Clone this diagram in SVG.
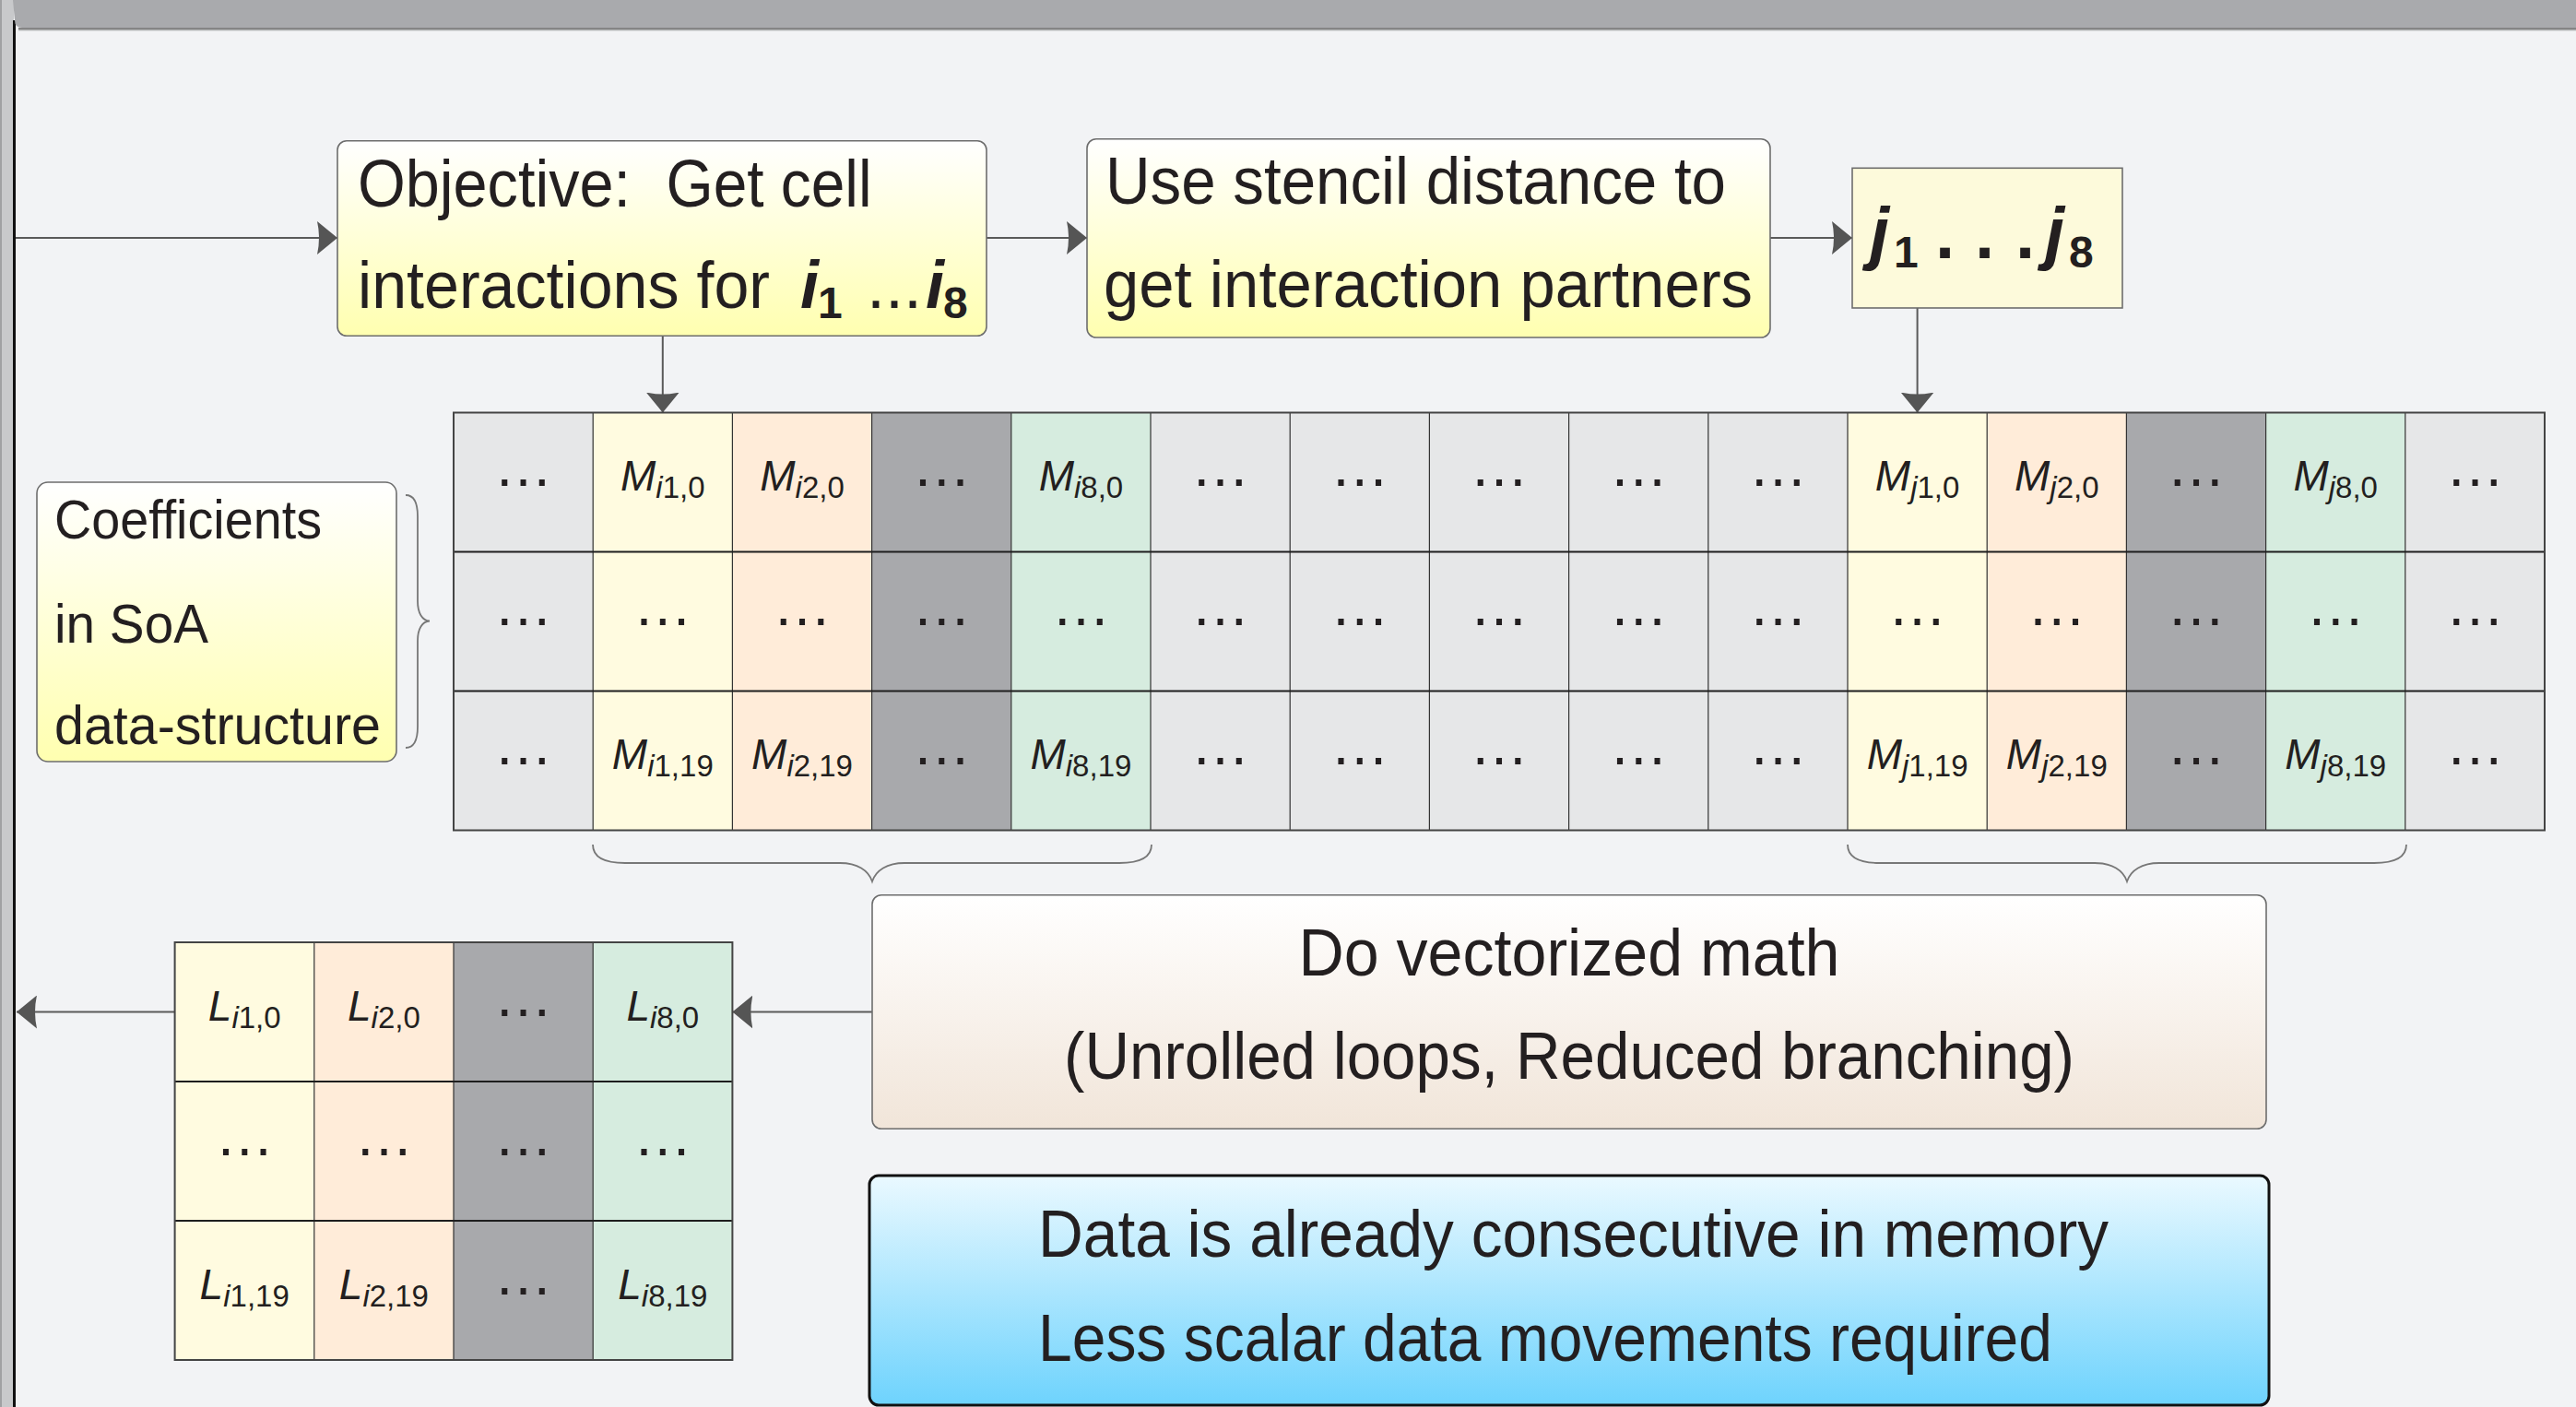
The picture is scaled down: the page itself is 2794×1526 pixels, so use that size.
<svg xmlns="http://www.w3.org/2000/svg" width="2794" height="1526" viewBox="0 0 2794 1526">
<style>
.t{font-family:"Liberation Sans",Arial,sans-serif;fill:#231f20}
.big{font-size:72px}
.mid{font-size:60px}
.cell{font-size:46px}
.sub{font-size:33px}
.it{font-style:italic}
.mb{font-style:italic;font-weight:bold}
.bd{font-weight:bold}
.dots{font-size:64px}
.box{stroke:#6d6d6d;stroke-width:1.6}
.conn{stroke:#5a5a5a;stroke-width:2;fill:none}
.brace{stroke:#777;stroke-width:1.8;fill:none}
.vl{stroke:#333;stroke-width:1.2}
.hl{stroke:#1e1e1e;stroke-width:2}
.lg{fill:#e6e7e8}.cy{fill:#fffbe0}.cp{fill:#ffecd9}.cd{fill:#a8a9ac}.cg{fill:#d6ecdf}
</style>
<defs>
<linearGradient id="gY" x1="0" y1="0" x2="0" y2="1"><stop offset="0" stop-color="#ffffff"/><stop offset="1" stop-color="#ffffb0"/></linearGradient>
<linearGradient id="gB" x1="0" y1="0" x2="0" y2="1"><stop offset="0" stop-color="#ffffff"/><stop offset="1" stop-color="#f1e5d9"/></linearGradient>
<linearGradient id="gC" x1="0" y1="0" x2="0" y2="1"><stop offset="0" stop-color="#eaf9ff"/><stop offset="1" stop-color="#6ed3fd"/></linearGradient>
<marker id="ah" viewBox="0 0 22 36" refX="22" refY="18" markerWidth="22" markerHeight="36" markerUnits="userSpaceOnUse" orient="auto">
<path d="M0,0 L22,18 L0,36 Q4,18 0,0 Z" fill="#555"/>
</marker>
</defs>
<rect x="0" y="0" width="2794" height="1526" fill="#f2f3f5"/>
<g id="frame">
<rect x="0" y="0" width="15" height="1526" fill="#c8c9cb"/>
<rect x="0" y="0" width="2" height="1526" fill="#a0a1a3"/>
<rect x="14" y="22" width="3" height="1504" fill="#111"/>
<path d="M14,0 H2794 V30 H24 Q16,30 16,22 Z" fill="#a9aaad"/>
<rect x="20" y="30" width="2774" height="2.7" fill="#858585"/>
<rect x="20" y="32.7" width="2774" height="1" fill="#d2d3d5"/>
</g>
<g id="connectors">
<path class="conn" d="M17,258 H366" marker-end="url(#ah)"/>
<path class="conn" d="M1070,258 H1179" marker-end="url(#ah)"/>
<path class="conn" d="M1920,258 H2009" marker-end="url(#ah)"/>
<path class="conn" d="M718.8,364 V447.5" marker-end="url(#ah)"/>
<path class="conn" d="M2079.6,334 V447.5" marker-end="url(#ah)"/>
<path class="conn" d="M946,1097.5 H794.4" marker-end="url(#ah)"/>
<path class="conn" d="M189.6,1097.5 H18" marker-end="url(#ah)"/>
</g>
<g id="objective">
<rect class="box" x="366" y="152.7" width="704" height="211.6" rx="10" fill="url(#gY)"/>
<text class="t big" x="388" y="224" textLength="296" lengthAdjust="spacingAndGlyphs">Objective:</text>
<text class="t big" x="722.5" y="224" textLength="223" lengthAdjust="spacingAndGlyphs">Get cell</text>
<text class="t big" x="388" y="334" textLength="447" lengthAdjust="spacingAndGlyphs">interactions for</text>
<text class="t big"><tspan class="mb" x="868" y="334" font-size="72">i</tspan><tspan class="bd" x="887" y="345" font-size="48">1</tspan><tspan x="940" y="334">...</tspan><tspan class="mb" x="1004" y="334" font-size="72">i</tspan><tspan class="bd" x="1023" y="345" font-size="48">8</tspan></text>
</g>
<g id="stencil">
<rect class="box" x="1179" y="150.7" width="741" height="215.3" rx="10" fill="url(#gY)"/>
<text class="t big" x="1199" y="221" textLength="673" lengthAdjust="spacingAndGlyphs">Use stencil distance to</text>
<text class="t big" x="1197" y="333" textLength="704" lengthAdjust="spacingAndGlyphs">get interaction partners</text>
</g>
<g id="partners">
<rect class="box" x="2009" y="182.3" width="293" height="151.7" fill="#fdfadb"/>
<text class="t" font-size="76"><tspan class="mb" x="2028" y="278">j</tspan><tspan class="bd" x="2054" y="290" font-size="48">1</tspan><tspan class="bd" x="2099" y="280">.</tspan><tspan class="bd" x="2142" y="280">.</tspan><tspan class="bd" x="2186" y="280">.</tspan><tspan class="mb" x="2218" y="278">j</tspan><tspan class="bd" x="2244" y="290" font-size="48">8</tspan></text>
</g>
<g id="coefficients">
<rect class="box" x="40" y="523" width="390" height="303" rx="12" fill="url(#gY)"/>
<text class="t mid" x="59" y="584" textLength="290" lengthAdjust="spacingAndGlyphs">Coefficients</text>
<text class="t mid" x="59" y="697" textLength="167" lengthAdjust="spacingAndGlyphs">in SoA</text>
<text class="t mid" x="59" y="807" textLength="354" lengthAdjust="spacingAndGlyphs">data-structure</text>
<path class="brace" d="M440,537 C449,537 453,545 453,560 L453,652 C453,665 458,673 466,673.5 C458,674 453,682 453,695 L453,788 C453,803 449,811 440,811"/>
</g>
<g id="matrix">
<rect class="lg" x="492" y="447.5" width="2268" height="453"/>
<rect class="cy" x="643.2" y="447.5" width="151.2" height="453"/>
<rect class="cp" x="794.4" y="447.5" width="151.2" height="453"/>
<rect class="cd" x="945.6" y="447.5" width="151.2" height="453"/>
<rect class="cg" x="1096.8" y="447.5" width="151.2" height="453"/>
<rect class="cy" x="2004" y="447.5" width="151.2" height="453"/>
<rect class="cp" x="2155.2" y="447.5" width="151.2" height="453"/>
<rect class="cd" x="2306.4" y="447.5" width="151.2" height="453"/>
<rect class="cg" x="2457.6" y="447.5" width="151.2" height="453"/>
<path class="vl" d="M643.2,447.5V900.5M794.4,447.5V900.5M945.6,447.5V900.5M1096.8,447.5V900.5M1248,447.5V900.5M1399.2,447.5V900.5M1550.4,447.5V900.5M1701.6,447.5V900.5M1852.8,447.5V900.5M2004,447.5V900.5M2155.2,447.5V900.5M2306.4,447.5V900.5M2457.6,447.5V900.5M2608.8,447.5V900.5"/>
<path class="hl" d="M492,598.5H2760M492,749.5H2760"/>
<rect x="492" y="447.5" width="2268" height="453" fill="none" stroke="#444" stroke-width="2"/>
<g class="t dots" text-anchor="middle">
<text x="567.6" y="527">…</text><text x="1021.2" y="527">…</text><text x="1323.6" y="527">…</text><text x="1474.8" y="527">…</text><text x="1626" y="527">…</text><text x="1777.2" y="527">…</text><text x="1928.4" y="527">…</text><text x="2382" y="527">…</text><text x="2684.4" y="527">…</text>
<text x="567.6" y="678">…</text><text x="718.8" y="678">…</text><text x="870" y="678">…</text><text x="1021.2" y="678">…</text><text x="1172.4" y="678">…</text><text x="1323.6" y="678">…</text><text x="1474.8" y="678">…</text><text x="1626" y="678">…</text><text x="1777.2" y="678">…</text><text x="1928.4" y="678">…</text><text x="2079.6" y="678">…</text><text x="2230.8" y="678">…</text><text x="2382" y="678">…</text><text x="2533.2" y="678">…</text><text x="2684.4" y="678">…</text>
<text x="567.6" y="829">…</text><text x="1021.2" y="829">…</text><text x="1323.6" y="829">…</text><text x="1474.8" y="829">…</text><text x="1626" y="829">…</text><text x="1777.2" y="829">…</text><text x="1928.4" y="829">…</text><text x="2382" y="829">…</text><text x="2684.4" y="829">…</text>
</g>
<g class="t cell" text-anchor="middle">
<text x="718.8" y="531.5"><tspan class="it">M</tspan><tspan class="sub" dy="8"><tspan class="it">i</tspan>1,0</tspan></text>
<text x="870" y="531.5"><tspan class="it">M</tspan><tspan class="sub" dy="8"><tspan class="it">i</tspan>2,0</tspan></text>
<text x="1172.4" y="531.5"><tspan class="it">M</tspan><tspan class="sub" dy="8"><tspan class="it">i</tspan>8,0</tspan></text>
<text x="2079.6" y="531.5"><tspan class="it">M</tspan><tspan class="sub" dy="8"><tspan class="it">j</tspan>1,0</tspan></text>
<text x="2230.8" y="531.5"><tspan class="it">M</tspan><tspan class="sub" dy="8"><tspan class="it">j</tspan>2,0</tspan></text>
<text x="2533.2" y="531.5"><tspan class="it">M</tspan><tspan class="sub" dy="8"><tspan class="it">j</tspan>8,0</tspan></text>
<text x="718.8" y="833.5"><tspan class="it">M</tspan><tspan class="sub" dy="8"><tspan class="it">i</tspan>1,19</tspan></text>
<text x="870" y="833.5"><tspan class="it">M</tspan><tspan class="sub" dy="8"><tspan class="it">i</tspan>2,19</tspan></text>
<text x="1172.4" y="833.5"><tspan class="it">M</tspan><tspan class="sub" dy="8"><tspan class="it">i</tspan>8,19</tspan></text>
<text x="2079.6" y="833.5"><tspan class="it">M</tspan><tspan class="sub" dy="8"><tspan class="it">j</tspan>1,19</tspan></text>
<text x="2230.8" y="833.5"><tspan class="it">M</tspan><tspan class="sub" dy="8"><tspan class="it">j</tspan>2,19</tspan></text>
<text x="2533.2" y="833.5"><tspan class="it">M</tspan><tspan class="sub" dy="8"><tspan class="it">j</tspan>8,19</tspan></text>
</g>
</g>
<g id="braces">
<path class="brace" d="M643,916 C643,928 652,936 678,936 L911,936 C930,936 942,944 946,956 C950,944 962,936 981,936 L1214,936 C1240,936 1249,928 1249,916"/>
<path class="brace" d="M2004,916 C2004,928 2013,936 2039,936 L2272,936 C2291,936 2303,944 2307,956 C2311,944 2323,936 2342,936 L2575,936 C2601,936 2610,928 2610,916"/>
</g>
<g id="vectorized">
<rect class="box" x="946" y="970.7" width="1512" height="253.6" rx="10" fill="url(#gB)"/>
<text class="t big" x="1702" y="1058" text-anchor="middle" textLength="587" lengthAdjust="spacingAndGlyphs">Do vectorized math</text>
<text class="t big" x="1702" y="1170" text-anchor="middle" textLength="1096" lengthAdjust="spacingAndGlyphs">(Unrolled loops, Reduced branching)</text>
</g>
<g id="result">
<rect class="cy" x="189.6" y="1022" width="151.2" height="453"/>
<rect class="cp" x="340.8" y="1022" width="151.2" height="453"/>
<rect class="cd" x="492" y="1022" width="151.2" height="453"/>
<rect class="cg" x="643.2" y="1022" width="151.2" height="453"/>
<path class="vl" d="M340.8,1022V1475M492,1022V1475M643.2,1022V1475"/>
<path class="hl" d="M189.6,1173H794.4M189.6,1324H794.4"/>
<rect x="189.6" y="1022" width="604.8" height="453" fill="none" stroke="#444" stroke-width="2"/>
<g class="t dots" text-anchor="middle">
<text x="567.6" y="1101.5">…</text>
<text x="265.2" y="1252.5">…</text><text x="416.4" y="1252.5">…</text><text x="567.6" y="1252.5">…</text><text x="718.8" y="1252.5">…</text>
<text x="567.6" y="1403.5">…</text>
</g>
<g class="t cell" text-anchor="middle">
<text x="265.2" y="1107"><tspan class="it">L</tspan><tspan class="sub" dy="8"><tspan class="it">i</tspan>1,0</tspan></text>
<text x="416.4" y="1107"><tspan class="it">L</tspan><tspan class="sub" dy="8"><tspan class="it">i</tspan>2,0</tspan></text>
<text x="718.8" y="1107"><tspan class="it">L</tspan><tspan class="sub" dy="8"><tspan class="it">i</tspan>8,0</tspan></text>
<text x="265.2" y="1409"><tspan class="it">L</tspan><tspan class="sub" dy="8"><tspan class="it">i</tspan>1,19</tspan></text>
<text x="416.4" y="1409"><tspan class="it">L</tspan><tspan class="sub" dy="8"><tspan class="it">i</tspan>2,19</tspan></text>
<text x="718.8" y="1409"><tspan class="it">L</tspan><tspan class="sub" dy="8"><tspan class="it">i</tspan>8,19</tspan></text>
</g>
</g>
<g id="memory">
<rect x="943" y="1275" width="1518" height="249" rx="10" fill="url(#gC)" stroke="#111" stroke-width="3"/>
<text class="t big" x="1126" y="1363" textLength="1161" lengthAdjust="spacingAndGlyphs">Data is already consecutive in memory</text>
<text class="t big" x="1126" y="1476" textLength="1100" lengthAdjust="spacingAndGlyphs">Less scalar data movements required</text>
</g>
</svg>
